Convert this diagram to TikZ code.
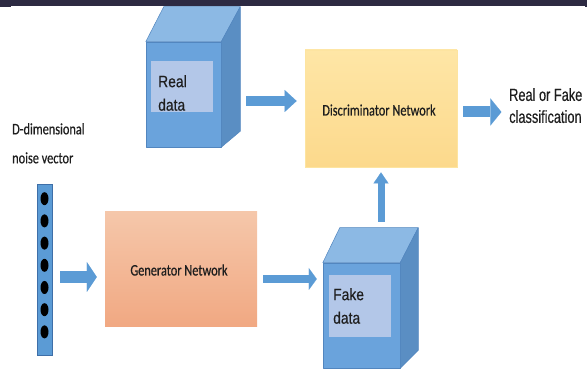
\documentclass[tikz,border=0pt]{standalone}
\usepackage{fontspec}
\usetikzlibrary{arrows.meta,calc,shapes.geometric}
\newfontfamily\calib[FakeStretch=0.77,FakeBold=0.6]{Carlito}
\newfontfamily\arialn[FakeStretch=0.84,FakeBold=0.4]{Liberation Sans}
\newfontfamily\arialc[FakeStretch=0.73,FakeBold=0.4]{Liberation Sans}

\definecolor{band}{HTML}{2D2A42}
\definecolor{cubefront}{HTML}{6AA3DC}
\definecolor{cubetop}{HTML}{8CB9E4}
\definecolor{cubeside}{HTML}{5A8EC3}
\definecolor{cubeedge}{HTML}{5286BF}
\definecolor{inner}{HTML}{B3C7E8}
\definecolor{arrowblue}{HTML}{5B9BD5}
\definecolor{barblue}{HTML}{5B9BD5}
\definecolor{baredge}{HTML}{3E6FA8}
\definecolor{discTop}{HTML}{FEE6A6}
\definecolor{discBot}{HTML}{FCD98C}
\definecolor{discEdge}{HTML}{FDE4A0}
\definecolor{genTop}{HTML}{F5C7AA}
\definecolor{genBot}{HTML}{F1A882}
\definecolor{inktext}{HTML}{1E1E1E}

\tikzset{
  face/.style={draw=cubeedge, line width=0.5pt, line join=round},
  frontface/.style={face, fill=cubefront, inner sep=0pt, minimum width=#1},
  innerbox/.style={fill=inner, inner sep=0pt},
  datatext/.style={inner sep=0pt, align=left, text=inktext,
    font=\arialn\fontsize{16.5}{23.5}\selectfont},
  calibtext/.style={inner sep=0pt, align=left, text=inktext,
    font=\calib\fontsize{16}{29}\selectfont},
  netbox/.style={inner sep=0pt, minimum width=152pt},
  barrow/.style args={#1/#2/#3}{draw=arrowblue, line width=#1,
    -{Triangle[length=#2, width=#3, line width=0.01pt]}},
  dot/.style={ellipse, fill=black, inner sep=0pt, minimum width=8pt, minimum height=13pt}
}

\begin{document}
\begin{tikzpicture}[x=1pt, y=-1pt]
\useasboundingbox (0,0) rectangle (587,371);

% dark strip along the top edge
\fill[band] (0,0) rectangle (587,6.3);
\fill[band] (0,0) rectangle (11,7.3);
\fill[band] (585,0) rectangle (586.5,7.3);

% noise vector column
\node[draw=baredge, fill=barblue, line width=0.6pt, inner sep=0pt,
      minimum width=15pt, minimum height=171pt] (noise) at (44.5,269.5) {};
\foreach \k in {0,...,6}
  \node[dot] (d\k) at ($(noise.north)+(0,15+22.2*\k)$) {};
\node[calibtext, anchor=north west] (noiselabel) at (12,123)
  {D-dimensional\\noise vector};

% generator
\node[netbox, minimum height=115pt, top color=genTop, bottom color=genBot]
  (gen) at (181,269.5) {};
\node[inner sep=0pt, text=inktext, font=\calib\fontsize{16}{19}\selectfont]
  (genlabel) at (179,270) {Generator Network};

% discriminator
\node[netbox, minimum height=117pt, top color=discTop, bottom color=discBot,
      draw=discEdge, line width=0.8pt]
  (disc) at (381,108.5) {};
\node[inner sep=0pt, text=inktext, font=\calib\fontsize{16}{19}\selectfont]
  (disclabel) at (379,110) {Discriminator Network};

% real data cube
\node[frontface=75pt, minimum height=105pt] (realfront) at (183.5,94.5) {};
\filldraw[face, fill=cubetop] (realfront.north west) -- ($(realfront.north west)+(18,-35)$)
  -- ($(realfront.north east)+(19,-35)$) -- (realfront.north east) -- cycle;
\filldraw[face, fill=cubeside] (realfront.north east) -- ($(realfront.north east)+(19,-35)$)
  -- ($(realfront.south east)+(19,-16)$) -- (realfront.south east) -- cycle;
\node[innerbox, minimum width=62pt, minimum height=51pt] (realin) at (182,86.5) {};
\node[datatext, anchor=north west] (reallabel) at (158,75) {Real\\data};

% fake data cube
\node[frontface=77pt, minimum height=105pt] (fakefront) at (361.5,315.5) {};
\filldraw[face, fill=cubetop] (fakefront.north west) -- ($(fakefront.north west)+(17,-35)$)
  -- ($(fakefront.north east)+(18,-35)$) -- (fakefront.north east) -- cycle;
\filldraw[face, fill=cubeside] (fakefront.north east) -- ($(fakefront.north east)+(18,-35)$)
  -- ($(fakefront.south east)+(18,-18)$) -- (fakefront.south east) -- cycle;
\node[innerbox, minimum width=62pt, minimum height=62pt] (fakein) at (360,306) {};
\node[datatext, anchor=north west] (fakelabel) at (333,288) {Fake\\data};

% output label
\node[inner sep=0pt, align=left, anchor=north west, text=inktext,
      font=\arialc\fontsize{17.5}{22}\selectfont] (cls) at (509,88)
  {Real or Fake\\classification};

% block arrows
\draw[barrow=12pt/10pt/30pt] ($(noise.east)+(8,7.5)$) -- ($(gen.west)+(-8,7.5)$);
\draw[barrow=8pt/8pt/22pt] ($(gen.east)+(6,9.5)$) -- ($(fakefront.west)+(-6,-36.5)$);
\draw[barrow=10pt/12pt/22pt] ($(realfront.east)+(25,6.5)$) -- ($(disc.west)+(-8,-7.5)$);
\draw[barrow=11pt/11pt/27pt] ($(disc.east)+(6,3.5)$) -- ($(disc.east)+(44,3.5)$);
\draw[barrow=7pt/11pt/15pt] ($(fakefront.north)+(19.5,-41)$) -- ($(disc.south)+(0,5)$);
\end{tikzpicture}
\end{document}
